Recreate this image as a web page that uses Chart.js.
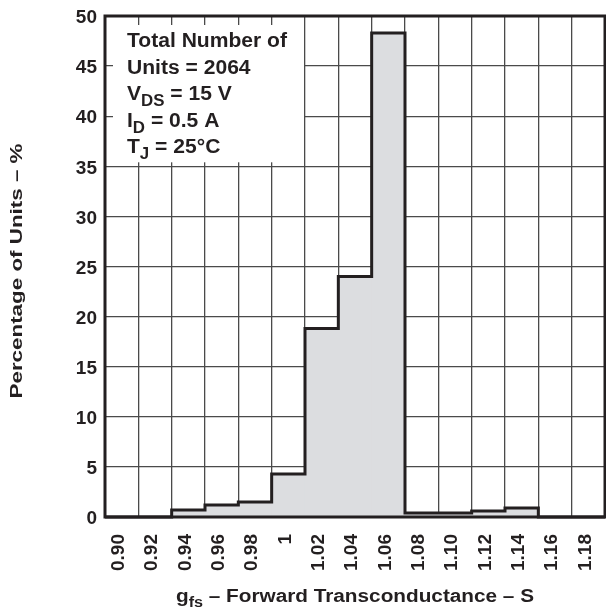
<!DOCTYPE html>
<html>
<head>
<meta charset="utf-8">
<script src="https://cdn.jsdelivr.net/npm/chart.js@4/dist/chart.umd.min.js"></script>
<style>
  html, body { margin: 0; padding: 0; background: #fff; }
  #wrap { width: 606px; height: 609px; }
</style>
</head>
<body>
<div id="wrap"><canvas id="c" width="606" height="609"></canvas></div>
<script>
// Histogram bins of forward transconductance (S)
const binLabels = ['0.90', '0.92', '0.94', '0.96', '0.98', '1', '1.02', '1.04', '1.06', '1.08', '1.10', '1.12', '1.14', '1.16', '1.18'];
// Share of units falling in each bin (%)
const percentUnits = [0, 0, 0.7, 1.2, 1.5, 4.3, 18.8, 24.0, 48.3, 0.4, 0.4, 0.6, 0.9, 0, 0];
// Y axis range and step
const yMin = 0, yMax = 50, yStep = 5;
// Test-condition note: each line is a list of [text, isSubscript]
const noteLines = [
  [['Total Number of', false]],
  [['Units = 2064', false]],
  [['V', false], ['DS', true], [' = 15 V', false]],
  [['I', false], ['D', true], [' = 0.5 A', false]],
  [['T', false], ['J', true], [' = 25\u00B0C', false]]
];
const xTitle = [['g', false], ['fs', true], [' \u2013 Forward Transconductance \u2013 S', false]];
const yTitle = 'Percentage of Units \u2013 %';

const FONT = "'Liberation Sans', Arial, Helvetica, sans-serif";
const INK = '#231f20';

function richWidth(ctx, parts, size, subSize) {
  let total = 0;
  parts.forEach(([t, sub]) => {
    ctx.font = 'bold ' + (sub ? subSize : size) + 'px ' + FONT;
    total += ctx.measureText(t).width;
  });
  return total;
}

// draws mixed normal/subscript text; x is the left edge, stretched by sx
function drawRich(ctx, parts, x, y, size, subSize, subDrop, sx) {
  ctx.save();
  ctx.translate(x, y);
  ctx.scale(sx, 1);
  let cx = 0;
  parts.forEach(([t, sub]) => {
    ctx.font = 'bold ' + (sub ? subSize : size) + 'px ' + FONT;
    ctx.fillText(t, cx, sub ? subDrop : 0);
    cx += ctx.measureText(t).width;
  });
  ctx.restore();
}

const overlay = {
  id: 'overlay',
  afterDraw(chart) {
    const ctx = chart.ctx;
    const area = chart.chartArea;
    const xs = chart.scales.x, ys = chart.scales.y;
    ctx.save();

    // white panel behind the note, leaving short grid ticks visible
    const bx0 = area.left + 8;
    const bx1 = xs.getPixelForValue(5.5) - 1;
    const by0 = area.top + 9;
    const by1 = ys.getPixelForValue(35) - 4;
    ctx.fillStyle = '#fff';
    ctx.fillRect(bx0, by0, bx1 - bx0, by1 - by0);

    // stepped outline of the histogram
    const meta = chart.getDatasetMeta(0);
    ctx.strokeStyle = INK;
    ctx.lineWidth = 3;
    ctx.lineJoin = 'miter';
    ctx.beginPath();
    meta.data.forEach((bar, i) => {
      const l = bar.x - bar.width / 2, r = bar.x + bar.width / 2;
      if (i === 0) ctx.moveTo(l, bar.base);
      ctx.lineTo(l, bar.y);
      ctx.lineTo(r, bar.y);
      if (i === meta.data.length - 1) ctx.lineTo(r, bar.base);
    });
    ctx.stroke();

    // plot frame
    ctx.strokeRect(area.left, area.top, area.right - area.left, area.bottom - area.top);

    // note text
    ctx.fillStyle = INK;
    ctx.textAlign = 'left';
    ctx.textBaseline = 'alphabetic';
    const noteW = richWidth(ctx, noteLines[0], 20, 16);
    const noteSx = 160 / noteW;
    noteLines.forEach((line, i) => {
      drawRich(ctx, line, area.left + 22, area.top + 31 + i * 26.6, 20, 16, 6, noteSx);
    });

    // x axis title
    const xtW = richWidth(ctx, xTitle, 18, 14);
    const xtSx = 358 / xtW;
    drawRich(ctx, xTitle, (area.left + area.right) / 2 - 179, 602, 18, 14, 5, xtSx);

    // y axis title
    ctx.font = 'bold 16px ' + FONT;
    const ytSx = 255 / ctx.measureText(yTitle).width;
    ctx.translate(18, 271);
    ctx.rotate(-Math.PI / 2);
    ctx.scale(ytSx, 1);
    ctx.textAlign = 'center';
    ctx.textBaseline = 'middle';
    ctx.fillText(yTitle, 0, 0);
    ctx.restore();
  }
};

new Chart(document.getElementById('c'), {
  type: 'bar',
  data: {
    labels: binLabels,
    datasets: [{
      data: percentUnits,
      backgroundColor: '#dcdde0',
      borderWidth: 0,
      barPercentage: 1,
      categoryPercentage: 1
    }]
  },
  options: {
    responsive: false,
    animation: false,
    devicePixelRatio: 1,
    layout: { padding: { top: 16, right: 1, left: 0, bottom: 0 } },
    plugins: { legend: { display: false }, tooltip: { enabled: false } },
    scales: {
      x: {
        z: 1,
        offset: true,
        grid: { offset: true, color: '#4a4a4a', lineWidth: 1.3, drawTicks: false },
        border: { display: false },
        ticks: {
          color: INK,
          font: { family: FONT, size: 19, weight: 'bold' },
          minRotation: 90, maxRotation: 90,
          padding: 17,
          labelOffset: -3,
          autoSkip: false
        },
        afterFit(scale) {
          scale.height = 92;
          scale.paddingLeft = 0;
          scale.paddingRight = 0;
        }
      },
      y: {
        z: 1,
        min: yMin, max: yMax,
        grid: { color: '#4a4a4a', lineWidth: 1.3, drawTicks: false },
        border: { display: false },
        ticks: {
          stepSize: yStep,
          color: INK,
          font: { family: FONT, size: 19, weight: 'bold' },
          padding: 8,
          labelOffset: 2
        },
        afterFit(scale) {
          scale.width = 105;
          scale.paddingTop = 0;
          scale.paddingBottom = 0;
        }
      }
    }
  },
  plugins: [overlay]
});
</script>
</body>
</html>
